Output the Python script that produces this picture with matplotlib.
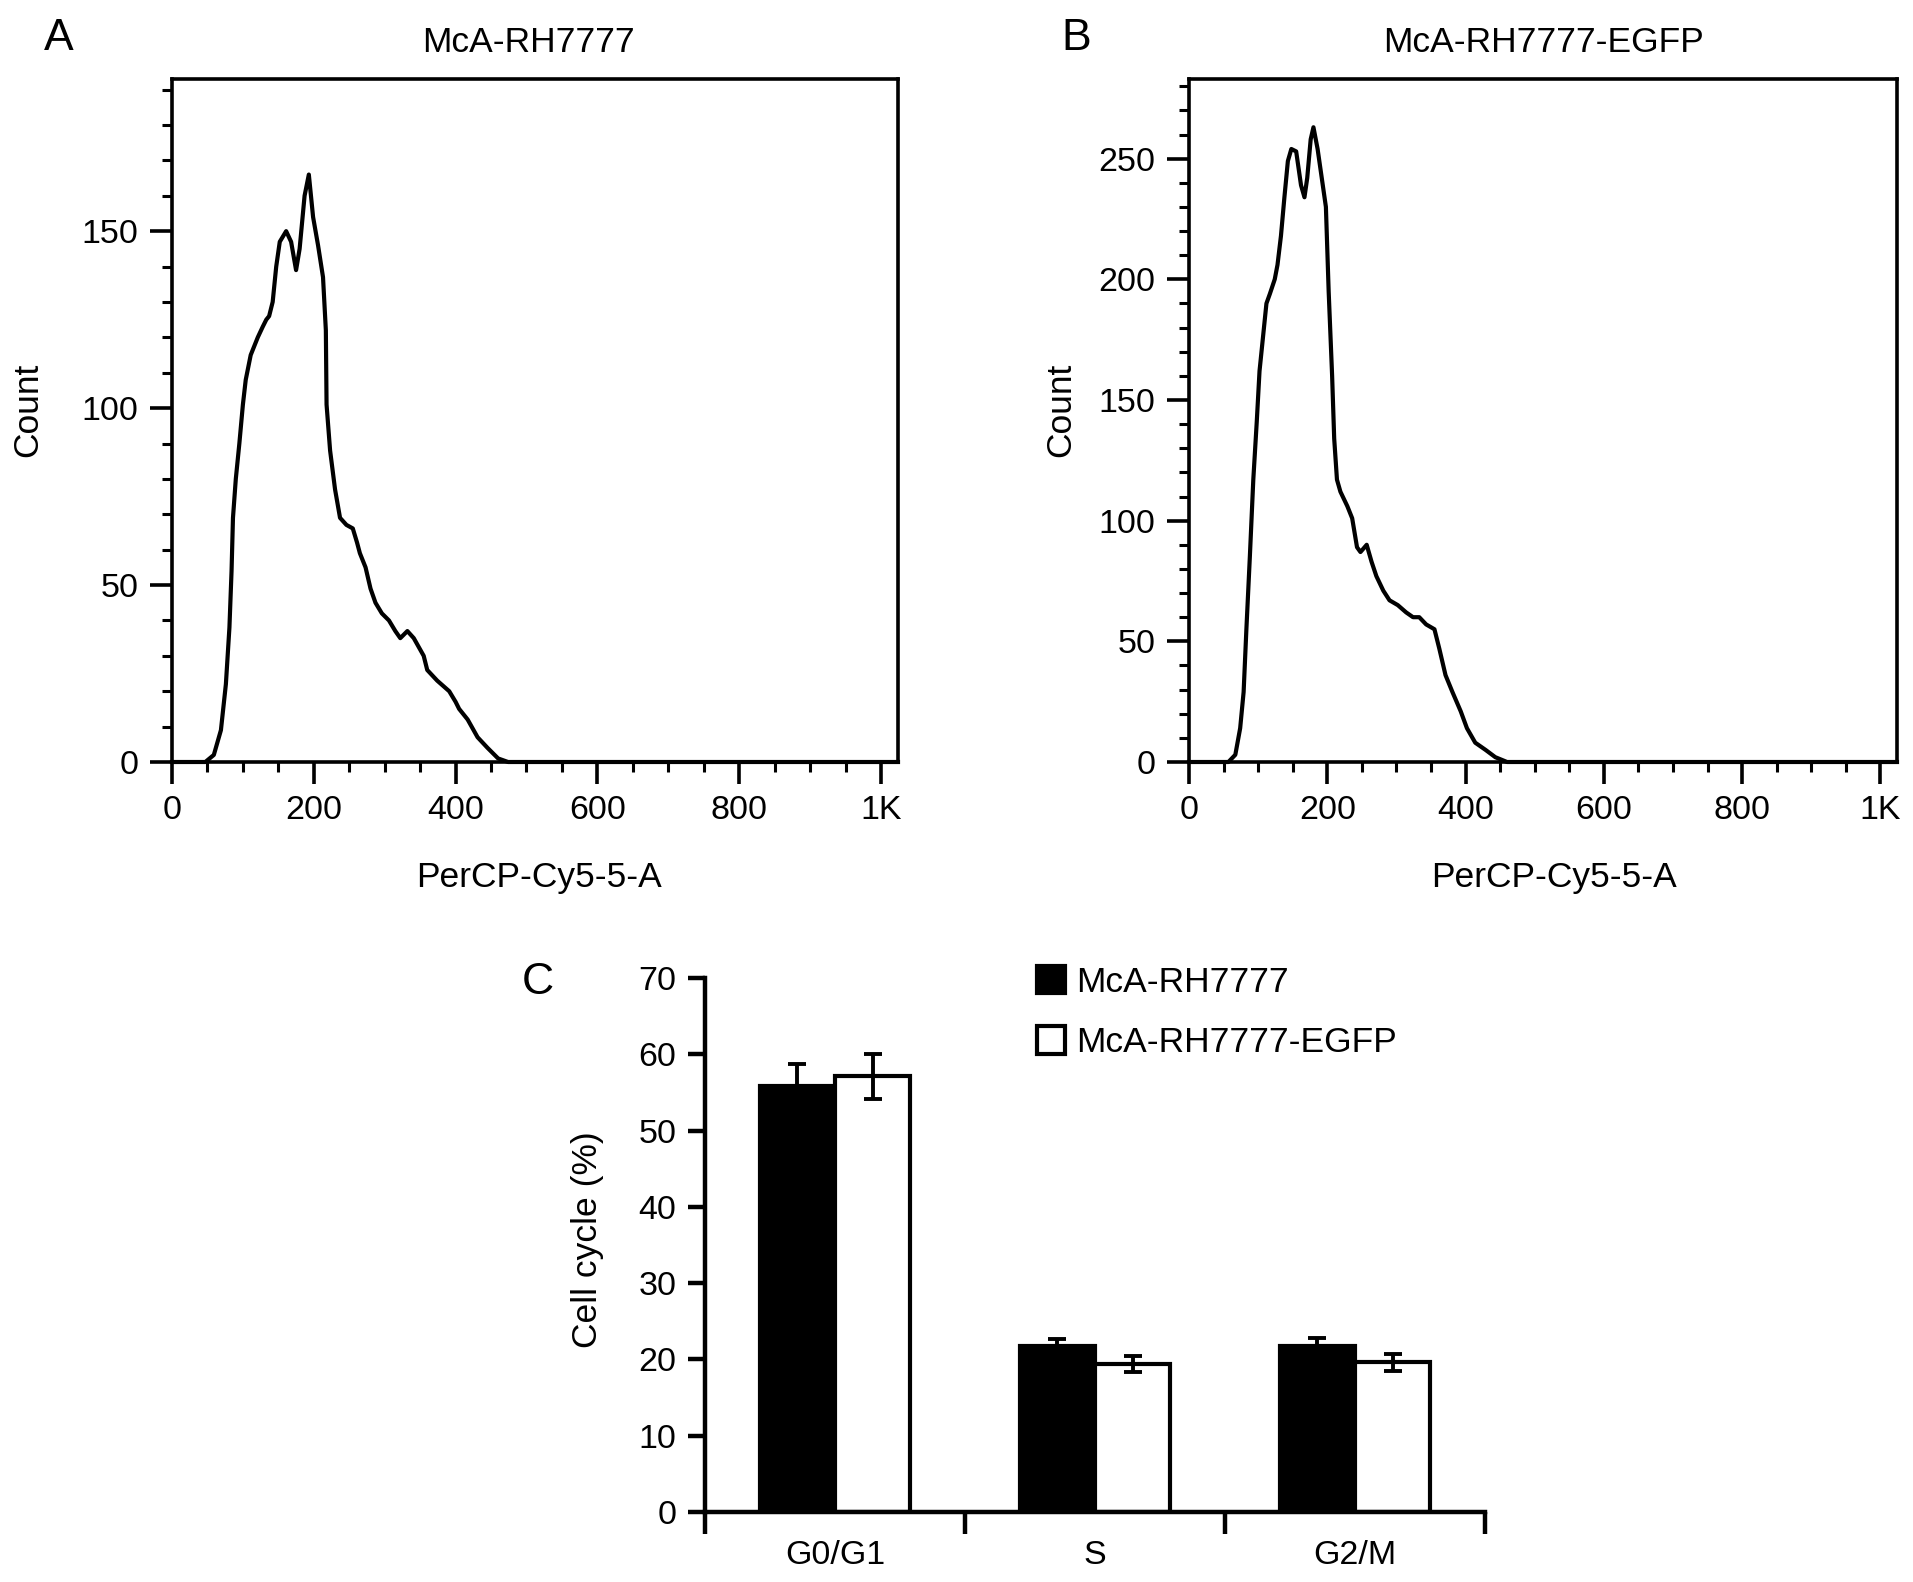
import matplotlib
matplotlib.use("Agg")
import matplotlib.pyplot as plt
from matplotlib.ticker import MultipleLocator, FixedLocator
from matplotlib.patches import Patch

plt.rcParams['font.family'] = ['Liberation Sans', 'DejaVu Sans']

# ---------------- data ----------------
title_a = "McA-RH7777"
title_b = "McA-RH7777-EGFP"
hist_xlabel = "PerCP-Cy5-5-A"
hist_ylabel = "Count"
hist_xticks = [0, 200, 400, 600, 800, 1000]
hist_xticklabels = ["0", "200", "400", "600", "800", "1K"]

hist_a_x = [0, 47, 59, 69, 76, 81, 84, 86, 90, 95, 100, 104, 111, 121, 128, 133, 137, 142, 147, 152,
            161, 168, 175, 180, 187, 193, 199, 206, 213, 217, 218, 223, 230, 237, 246, 255, 261, 265, 273, 280,
            287, 296, 306, 315, 322, 332, 341, 355, 360, 374, 391, 400, 405, 417, 431, 445, 460, 474, 1024]
hist_a_y = [0, 0, 2, 9, 22, 38, 54, 69, 80, 90, 101, 108, 115, 120, 123, 125, 126, 130, 140, 147,
            150, 147, 139, 145, 160, 166, 154, 146, 137, 122, 101, 88, 77, 69, 67, 66, 62, 59, 55, 49,
            45, 42, 40, 37, 35, 37, 35, 30, 26, 23, 20, 17, 15, 12, 7, 4, 1, 0, 0]

hist_b_x = [0, 57, 67, 74, 79, 83, 88, 93, 98, 102, 107, 112, 117, 124, 128, 133, 138, 143, 148, 155,
            162, 167, 171, 176, 180, 186, 193, 198, 202, 207, 210, 214, 219, 229, 236, 243, 248, 257, 264, 271,
            281, 290, 302, 314, 324, 333, 343, 355, 362, 371, 381, 393, 402, 414, 429, 443, 460, 1024]
hist_b_y = [0, 0, 3, 14, 29, 55, 85, 117, 141, 162, 176, 190, 194, 200, 206, 218, 234, 249, 254, 253,
            239, 234, 242, 258, 263, 254, 240, 230, 195, 160, 134, 117, 112, 106, 101, 89, 87, 90, 83, 77,
            71, 67, 65, 62, 60, 60, 57, 55, 47, 36, 29, 21, 14, 8, 5, 2, 0, 0]

phases = ["G0/G1", "S", "G2/M"]
series_names = ["McA-RH7777", "McA-RH7777-EGFP"]
rh_mean = [55.8, 21.7, 21.8]
rh_err = [2.9, 1.0, 1.0]
egfp_mean = [57.1, 19.4, 19.6]
egfp_err = [2.9, 1.05, 1.15]
c_ylabel = "Cell cycle (%)"

# ---------------- figure ----------------
W, H = 1913, 1582
fig = plt.figure(figsize=(W / 100, H / 100), dpi=100)

def fx(px):
    return px / W

def fy(py):
    return 1 - py / H

TICK_FS = 24.5
LAB_FS = 25.5
LW = 2.6


def hist_panel(rect, xs, ys, ymax, ymajor):
    ax = fig.add_axes(rect)
    ax.plot(xs, ys, color="black", lw=3.0, clip_on=False, solid_joinstyle="round", zorder=3)
    ax.set_xlim(0, 1024)
    ax.set_ylim(0, ymax)
    ax.xaxis.set_major_locator(FixedLocator(hist_xticks))
    ax.set_xticklabels(hist_xticklabels)
    ax.xaxis.set_minor_locator(MultipleLocator(50))
    ax.yaxis.set_major_locator(MultipleLocator(ymajor))
    ax.yaxis.set_minor_locator(MultipleLocator(10))
    ax.tick_params(which="major", direction="out", length=16, width=2.6,
                   labelsize=TICK_FS, pad=8)
    ax.tick_params(which="minor", direction="out", length=7.5, width=2.2)
    ax.tick_params(top=False, right=False, which="both")
    for s in ax.spines.values():
        s.set_linewidth(LW)
    return ax


ax_a = hist_panel([fx(172), fy(762), fx(898) - fx(172), (762 - 79) / H],
                  hist_a_x, hist_a_y, 193, 50)
ax_b = hist_panel([fx(1189), fy(762), fx(1897) - fx(1189), (762 - 79) / H],
                  hist_b_x, hist_b_y, 283, 50)

# titles, labels, panel letters
fig.text(fx(528), fy(52), title_a, ha="center", va="baseline", fontsize=LAB_FS)
fig.text(fx(1543), fy(52), title_b, ha="center", va="baseline", fontsize=LAB_FS)
fig.text(fx(539), fy(887), hist_xlabel, ha="center", va="baseline", fontsize=LAB_FS)
fig.text(fx(1554), fy(887), hist_xlabel, ha="center", va="baseline", fontsize=LAB_FS)
fig.text(fx(28), fy(410), hist_ylabel, ha="center", va="center", rotation=90, fontsize=LAB_FS)
fig.text(fx(1061), fy(410), hist_ylabel, ha="center", va="center", rotation=90, fontsize=LAB_FS)
fig.text(fx(44), fy(50), "A", ha="left", va="baseline", fontsize=32)
fig.text(fx(1061), fy(50), "B", ha="left", va="baseline", fontsize=32)
fig.text(fx(522), fy(994), "C", ha="left", va="baseline", fontsize=32)

# ---------------- panel C ----------------
ax_c = fig.add_axes([fx(705), fy(1512), fx(1485) - fx(705), (1512 - 978) / H])
pos = list(range(len(phases)))
bw = 0.29
ax_c.bar([p - bw / 2 for p in pos], rh_mean, width=bw, color="black", edgecolor="black",
         linewidth=3.0, zorder=2)
ax_c.bar([p + bw / 2 for p in pos], egfp_mean, width=bw, color="white", edgecolor="black",
         linewidth=3.0, zorder=2)
ax_c.errorbar([p - bw / 2 for p in pos], rh_mean, yerr=rh_err, fmt="none", ecolor="black",
              elinewidth=2.8, capsize=6.5, capthick=2.8, zorder=3)
ax_c.errorbar([p + bw / 2 for p in pos], egfp_mean, yerr=egfp_err, fmt="none", ecolor="black",
              elinewidth=2.8, capsize=6.5, capthick=2.8, zorder=3)
ax_c.set_xlim(-0.5, len(phases) - 0.5)
ax_c.set_ylim(0, 70)
ax_c.yaxis.set_major_locator(MultipleLocator(10))
ax_c.xaxis.set_major_locator(FixedLocator([p - 0.5 for p in pos] + [len(phases) - 0.5]))
ax_c.xaxis.set_major_formatter(plt.NullFormatter())
ax_c.xaxis.set_minor_locator(FixedLocator(pos))
ax_c.set_xticklabels(phases, minor=True)
ax_c.tick_params(axis="x", which="major", direction="out", length=16, width=3.2)
ax_c.tick_params(axis="x", which="minor", length=0, labelsize=TICK_FS, pad=20)
ax_c.tick_params(axis="y", which="major", direction="out", length=12.5, width=3.2,
                 labelsize=TICK_FS, pad=8)
for side in ["top", "right"]:
    ax_c.spines[side].set_visible(False)
for side in ["left", "bottom"]:
    ax_c.spines[side].set_linewidth(3.2)
fig.text(fx(588), fy(1240), c_ylabel, ha="center", va="center", rotation=90, fontsize=LAB_FS)

handles = [Patch(facecolor="black", edgecolor="black", linewidth=3.0),
           Patch(facecolor="white", edgecolor="black", linewidth=3.0)]
ax_c.legend(handles, series_names, loc="upper left", bbox_to_anchor=(fx(1037), fy(966)),
            bbox_transform=fig.transFigure, frameon=False, fontsize=LAB_FS,
            borderpad=0, borderaxespad=0, handlelength=0.8, handleheight=0.8,
            handletextpad=0.3, labelspacing=0.77)

fig.savefig("out.png", dpi=100)
